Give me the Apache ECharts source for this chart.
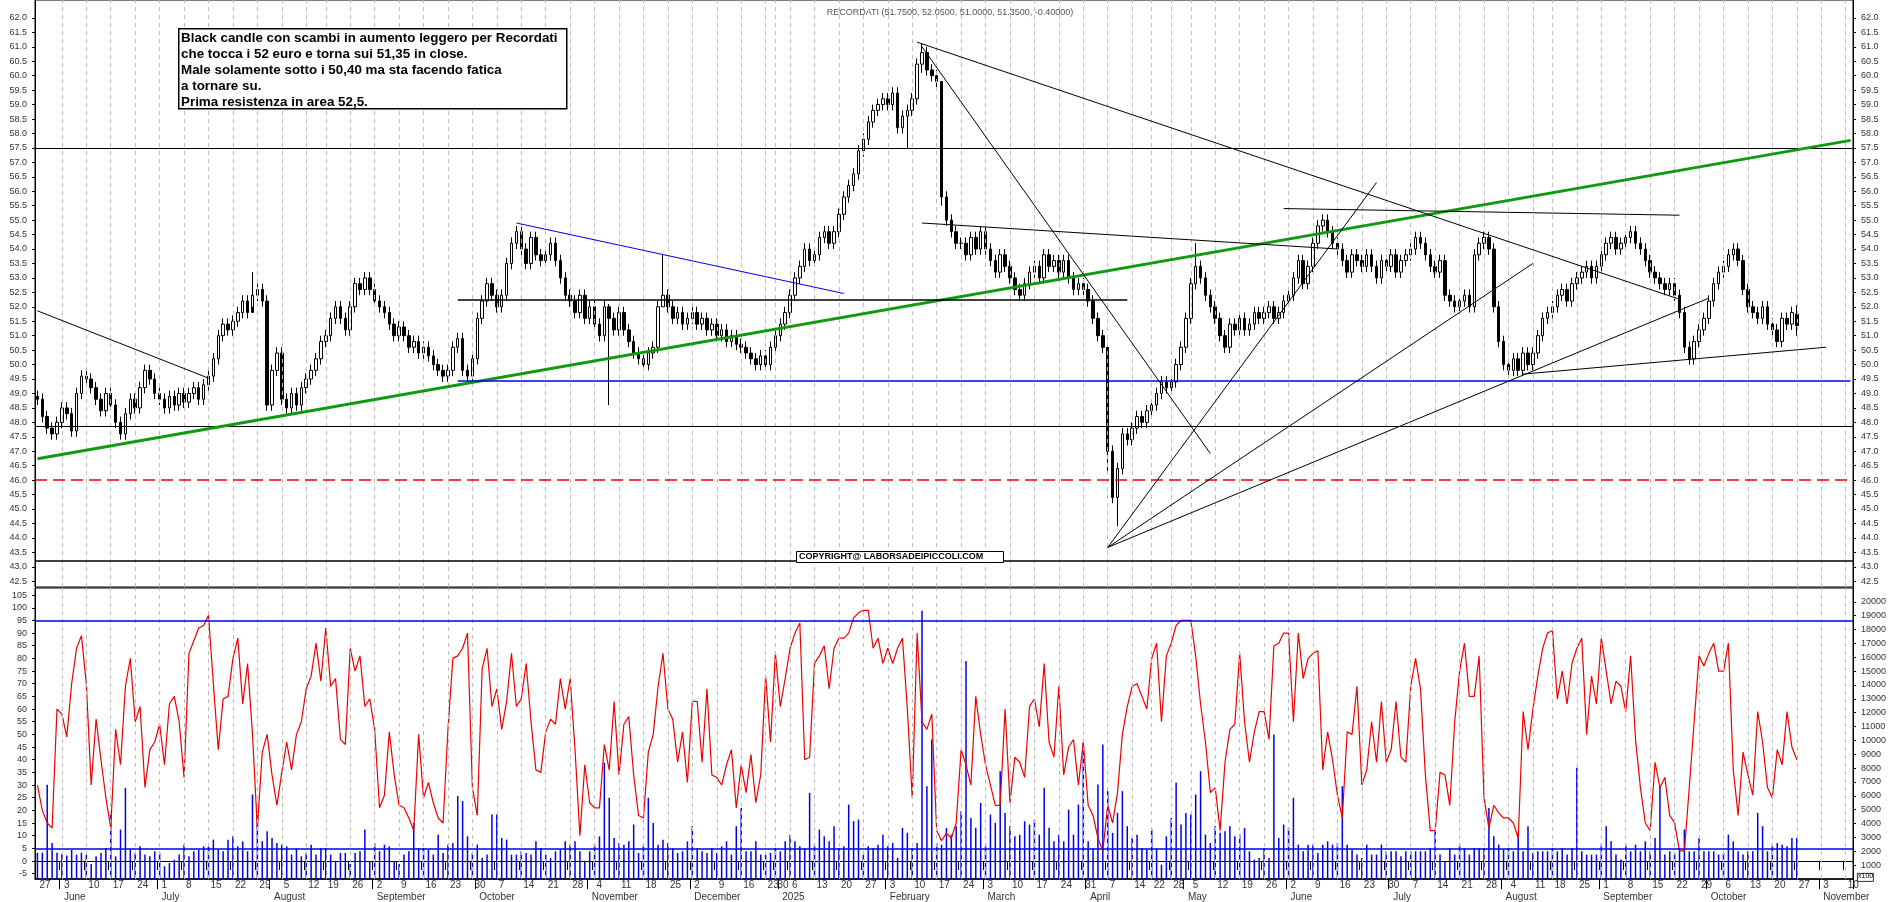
<!DOCTYPE html>
<html>
<head>
<meta charset="utf-8">
<script src="https://cdn.jsdelivr.net/npm/echarts@6/dist/echarts.min.js"></script>
<style>html,body{margin:0;padding:0;background:#fff}#chart{width:1890px;height:902px}</style>
</head>
<body>
<div id="chart"></div>
<script>
// closes, one row per week (Mon..Fri), from 27 May 2024 to 27 Oct 2025
const closes = [
  48.8, 48.2, 47.8, 47.6, 48.0,   48.5, 48.3, 47.7, 49.0, 49.6,   49.5, 49.2, 48.8, 48.4, 49.0,
  48.6, 48.0, 47.6, 48.3, 48.8,   48.5, 49.2, 49.8, 49.5, 49.0,   48.8, 48.5, 48.9, 48.6, 49.0,
  48.7, 49.0, 49.2, 48.8, 49.3,   49.6, 50.2, 51.0, 51.4, 51.2,   51.5, 51.8, 52.2, 51.8, 52.4,
  52.6, 52.2, 48.6, 49.8, 50.4,   48.8, 48.5, 49.0, 48.6, 49.2,   49.5, 49.8, 50.2, 50.8,
  51.0, 51.6, 52.0, 51.6, 51.2,   52.0, 52.8, 52.6, 53.0, 52.6,   52.2, 52.0, 51.8, 51.4, 51.0,
  51.3, 51.0, 50.6, 50.8, 50.4,   50.6, 50.3, 50.0, 49.8, 49.6,   49.8, 50.6, 50.9, 49.8, 49.6,
  50.2, 51.6, 52.2, 52.8, 52.4,   52.0, 52.4, 53.5, 54.2, 54.6,   54.0, 53.5, 54.4, 53.8, 53.6,
  53.8, 54.2, 53.6, 53.0, 52.4,   52.2, 51.8, 52.4, 51.6, 52.0,   51.4, 51.0, 52.0, 51.6, 51.2,
  51.8, 51.2, 50.8, 50.4, 50.2,   50.0, 50.4, 50.6, 52.0, 52.4,   52.0, 51.6, 51.8, 51.4, 51.6,
  51.8, 51.4, 51.6, 51.2, 51.4,   51.0, 51.2, 50.8, 51.0, 50.7,   50.6, 50.4, 50.2, 50.0, 50.3,
  50.0, 50.6,   51.0, 51.4, 51.8,
  52.4, 53.0, 53.4, 54.0, 53.6,   53.8, 54.4, 54.6, 54.2, 54.6,   55.2, 55.8, 56.2, 56.6, 57.4,
  57.8, 58.4, 58.8, 59.0, 59.2,   59.0, 59.4, 58.2, 58.6, 58.8,   59.2, 60.4, 60.8, 60.2, 60.0,
  59.8, 55.8, 55.0, 54.6, 54.2,   54.2, 53.8, 54.4, 54.0, 54.6,   54.0, 53.6, 53.2, 53.8, 53.4,
  53.0, 52.6, 52.4, 52.8, 53.2,   53.4, 53.0, 53.8, 53.4, 53.6,   53.2, 53.6, 53.0, 52.6, 52.8,
  52.6, 52.2, 51.6, 51.0, 50.6,   47.0, 45.4, 46.4, 47.6, 47.4,   47.8, 48.2, 48.0, 48.4,
  48.6, 49.0, 49.4, 49.2,   49.4, 50.0, 50.6, 51.6,
  52.8, 53.4, 53.0, 52.4, 52.0,   51.6, 51.0, 50.6, 51.4, 51.2,   51.6, 51.2, 51.4, 51.8, 51.6,
  51.8, 52.0, 51.6, 51.8, 52.2,   52.4, 53.0, 53.6, 52.8, 53.4,   54.2, 54.8, 55.0, 54.6, 54.2,
  54.0, 53.6, 53.2, 53.8, 53.6,   53.4, 53.8, 53.4, 53.0, 53.6,   53.4, 53.8, 53.2, 53.6, 53.8,
  54.0, 54.4, 54.2, 53.8, 53.4,   53.2, 53.6, 52.4, 52.2, 52.0,   52.2, 52.4, 52.0, 53.8, 54.2,
  54.4, 54.0, 52.0, 50.8, 50.0,   49.8, 50.2, 49.8, 50.4, 50.0,   50.4, 51.0, 51.6, 51.8,
  52.0, 52.4, 52.6, 52.2, 52.8,   53.0, 53.2, 53.4, 53.0, 53.4,   53.8, 54.2, 54.4, 54.0, 54.2,
  54.4, 54.6, 54.2, 54.0, 53.6,   53.2, 53.0, 52.8, 52.6, 52.8,   52.4, 51.8, 50.6, 50.2, 50.8,
  51.2, 51.6, 52.2, 52.8, 53.2,   53.4, 53.8, 54.0, 53.6, 52.6,   52.0, 51.8, 51.6, 52.0, 51.4,
  51.2, 50.8, 51.6, 51.4, 51.8,   51.35
];
// notable wicks: date -> [low, high]
const wicks = {
  '2024-07-26': [52.0, 53.2], '2024-11-07': [48.6, 52.1], '2024-11-22': [52.0, 53.8],
  '2025-02-07': [57.5, 59.0], '2025-02-12': [60.1, 61.1], '2025-02-18': [55.5, 57.0],
  '2025-04-09': [44.4, 46.6], '2025-04-07': [46.2, 49.5], '2025-05-06': [52.6, 54.2],
  '2025-10-27': [51.0, 52.05]
};
const firstOpen = 48.9, lastOpen = 51.75;

const osc = [
  30, 20, 15, 13, 60,   58, 49, 70, 84, 89,   70, 30, 56, 40, 25,   13, 52, 38, 69, 80,
  55, 61, 29, 44, 47,   54, 38, 62, 65, 55,   33, 82, 87, 92, 93,   97, 70, 44, 64, 65,
  80, 88, 62, 78, 50,   13, 43, 50, 34, 22,   35, 47, 36, 50, 55,   68, 73, 86, 71,
  92, 69, 72, 48, 46,   84, 75, 81, 61, 64,   52, 21, 26, 51, 34,   22, 21, 17, 12, 50,
  25, 31, 23, 17, 15,   52, 80, 81, 84, 90,   29, 18, 76, 84, 61,   68, 52, 63, 82, 61,
  64, 78, 55, 36, 35,   51, 56, 54, 72, 60,   72, 44, 10, 38, 23,   21, 21, 46, 36, 63,
  34, 54, 57, 34, 18,   17, 43, 50, 69, 82,   60, 56, 39, 51, 31,   63, 63, 39, 68, 34,
  33, 30, 38, 44, 21,   38, 27, 42, 23, 34,   73, 47,   82, 61, 72,
  84, 90, 94, 40, 41,   78, 81, 85, 68, 84,   88, 88, 90, 96, 98,   99, 99, 84, 88, 78,
  84, 78, 84, 88, 60,   25, 90, 55, 52, 58,   12, 8, 11, 9, 15,     44, 38, 30, 65, 50,
  38, 30, 22, 22, 60,   23, 41, 39, 33, 61,   64, 53, 78, 47, 41,   69, 34, 45, 48, 30,
  47, 22, 18, 9, 4,     22, 15, 27, 50, 61,   69, 70, 65, 60,   80, 86, 55, 81,   86, 93, 95, 95,
  95, 81, 62, 47, 27,   29, 12, 39, 52, 54,   82, 55, 39, 51, 59,   59, 48, 85, 86, 90,
  90, 55, 90, 72, 80,   82, 83, 36, 51, 40,   26, 17, 51, 50, 69,   30, 36, 55, 39, 63,
  39, 44, 63, 41, 39,   69, 80, 68, 34, 12,   12, 35, 34, 22, 55,   75, 86, 65, 65, 81,
  25, 13, 22, 19, 17,   17, 15, 9, 59, 44,   60, 73, 84, 90,   91, 64, 75, 62, 78,
  84, 88, 50, 73, 62,   88, 75, 62, 71, 69,   59, 81, 48, 29, 15,   12, 39, 29, 33, 18,
  15, 4, 4, 29, 55,     81, 77, 82, 86, 75,   75, 86, 36, 18, 43,   34, 26, 59, 47, 29,
  25, 44, 38, 59, 45,   40
];

const volume = [
  1900, 1900, 6800, 2600, 1900,   1800, 1700, 2100, 1750, 1900,   1760, 1080, 1640, 1880, 2240,
  4650, 1640, 3570, 6580, 2120,   1880, 2360, 1760, 1640, 2000,   1880, 920, 1160, 1400, 1760,
  2480, 1640, 2000, 2120, 2360,   2360, 2840, 2120, 2000, 2840,   3080, 2360, 2720, 2000, 6100,
  4650, 2720, 3450, 2960, 2600,   2480, 2360, 1760, 2240, 1640,   1880, 2480, 1760, 2240,
  2240, 1760, 1280, 1880, 1880,   1080, 1880, 2000, 3570, 1280,   2600, 2000, 2480, 2360, 1280,
  1080, 1760, 2000, 4050, 2240,   2240, 2120, 1760, 3200, 1880,   2480, 2600, 5980, 5620, 3080,
  1880, 2480, 1520, 1760, 4650,   4650, 2960, 2840, 1760, 1760,   2000, 1880, 1760, 2720, 2240,
  1760, 1520, 2000, 2120, 2720,   2480, 2720, 2000, 1280, 2000,   2480, 3080, 8390, 5860, 2960,
  2600, 2480, 2720, 3930, 1880,   2480, 5860, 4050, 2480, 2840,   2600, 2240, 1880, 2000, 2720,
  3810, 2240, 2000, 1880, 2240,   1880, 2360, 2720, 1760, 3810,   5130, 2000, 2000, 2720, 1760,
  1760, 1880,   2240, 2000, 2720,
  3200, 2720, 2360, 2240, 6220,   2480, 3570, 3080, 2720, 3810,   2240, 2360, 5370, 4170, 4290,
  1760, 2360, 2240, 2480, 3200,   2360, 2600, 1520, 3690, 3330,   2240, 2600, 19350, 6700, 10070,
  2600, 2480, 3690, 3200, 3810,   4890, 15740, 4410, 3690, 5490,   2480, 4650, 4050, 7780, 4770,
  3810, 3080, 3200, 4170, 3930,   4290, 3200, 6580, 3690, 2720,   3200, 2720, 5010, 3200, 5370,
  9830, 2720, 2240, 6820, 9710,   6340, 3330, 4770, 6340, 3810,   2960, 3200, 2240, 2120,
  3570, 2240, 1040, 3080,   4410, 6940, 3930, 4770,
  4650, 6100, 7780, 3200, 2600,   3810, 3330, 3450, 3810, 3080,   3200, 3690, 2000, 1400, 1520,
  2240, 1520, 10430, 2960, 3930,   3690, 5860, 2480, 2000, 2480,   2480, 1880, 2480, 2720, 2480,
  2600, 6700, 2480, 2120, 1760,   1520, 2480, 1760, 1760, 2480,   2000, 2000, 2000, 1640, 2000,
  2000, 2000, 2000, 2000, 2240,   3450, 1760, 1280, 2240, 1760,   2480, 2240, 1760, 2240, 2240,
  2240, 5130, 3080, 2480, 2120,   2240, 2000, 3330, 2000, 3810,   1880, 2000, 2000, 2000,
  2240, 2000, 2240, 1760, 2240,   8030, 2000, 1760, 1760, 1760,   2480, 3810, 2720, 1760, 1400,
  2480, 2000, 2480, 2000, 2720,   2000, 2960, 6700, 1760, 2000,   1880, 2240, 3570, 2000, 2000,
  2960, 2000, 2000, 2000, 1760,   1880, 3200, 2720, 2000, 1760,   2000, 2000, 4770, 3810, 2000,
  2480, 2600, 2480, 2360, 2960,   2960
];

const holidays = ['2024-08-15', '2024-12-24', '2024-12-25', '2024-12-26', '2024-12-31', '2025-01-01',
  '2025-04-18', '2025-04-21', '2025-05-01', '2025-08-15'];
const monthNames = ['2025', 'February', 'March', 'April', 'May', 'June', 'July', 'August',
  'September', 'October', 'November', 'December'];
const priceTicks = [];
for (let v = 42.5; v <= 62.01; v += 0.5) priceTicks.push(+v.toFixed(1));
const oscTicks = [-5, 0, 5, 10, 15, 20, 25, 30, 35, 40, 45, 50, 55, 60, 65, 70, 75, 80, 85, 90, 95, 100, 105];
const volTicks = [1000, 2000, 3000, 4000, 5000, 6000, 7000, 8000, 9000, 10000, 11000, 12000, 13000,
  14000, 15000, 16000, 17000, 18000, 19000, 20000];

// trading days
const dates = [];
const d = new Date(Date.UTC(2024, 4, 27));
const end = new Date(Date.UTC(2025, 10, 11));
while (d <= end) {
  const wd = d.getUTCDay();
  const s = d.toISOString().slice(0, 10);
  if (wd !== 0 && wd !== 6 && holidays.indexOf(s) < 0) dates.push(s);
  d.setUTCDate(d.getUTCDate() + 1);
}
function weekNo(s) {
  return Math.floor((Date.parse(s + 'T00:00:00Z') / 86400000 + 3) / 7);
}
const weekStart = dates.map(function (s, i) {
  return i === 0 || weekNo(s) !== weekNo(dates[i - 1]);
});
const monthStart = dates.map(function (s, i) {
  return i === 0 || s.slice(5, 7) !== dates[i - 1].slice(5, 7);
});
const weekDates = dates.filter(function (s, i) { return weekStart[i] && i > 0; });

const candles = closes.map(function (c, i) {
  const o = i === 0 ? firstOpen : (i === closes.length - 1 ? lastOpen : closes[i - 1]);
  const w = wicks[dates[i]];
  const lo = w ? w[0] : Math.min(o, c) - 0.2;
  const hi = w ? w[1] : Math.max(o, c) + 0.2;
  return [o, c, lo, hi];
});

function seg(d1, p1, d2, p2, color, width) {
  return [{ coord: [d1, p1], lineStyle: { color: color, width: width || 1, type: 'solid' } }, { coord: [d2, p2] }];
}
const lastDate = dates[dates.length - 1];
const trendLines = [
  seg(dates[0], 46.74, lastDate, 57.76, '#119911', 3),
  seg(dates[0], 51.86, '2024-07-15', 49.53, '#000'),
  seg('2024-10-11', 54.9, '2025-01-21', 52.46, '#0000ee'),
  seg('2024-09-25', 52.25, '2025-04-11', 52.25, '#000', 1.5),
  seg('2024-09-25', 49.45, lastDate, 49.45, '#0000ee', 1.5),
  seg('2025-02-11', 61.16, '2025-09-23', 52.26, '#000'),
  seg('2025-02-12', 61.0, '2025-05-09', 46.92, '#000'),
  seg('2025-02-12', 54.9, '2025-06-16', 54.0, '#000'),
  seg('2025-05-30', 55.4, '2025-09-23', 55.17, '#000'),
  seg('2025-04-07', 43.67, '2025-06-26', 56.3, '#000'),
  seg('2025-04-07', 43.67, '2025-08-11', 53.5, '#000'),
  seg('2025-04-07', 43.67, '2025-10-01', 52.3, '#000'),
  seg('2025-08-07', 49.67, '2025-11-04', 50.6, '#000')
];

function weekGrid(xi, yi) {
  return {
    type: 'line', xAxisIndex: xi, yAxisIndex: yi, data: [], silent: true, z: 0,
    markLine: {
      silent: true, symbol: 'none', label: { show: false }, animation: false,
      lineStyle: { color: '#bbb', width: 1, type: [4, 4] },
      data: weekDates.map(function (s) { return { xAxis: s }; })
    }
  };
}

const chart = echarts.init(document.getElementById('chart'));
const txt = { color: '#333', fontSize: 10, fontFamily: 'Liberation Sans' };

chart.setOption({
  animation: false,
  backgroundColor: '#fff',
  title: {
    text: 'RECORDATI (51.7500, 52.0500, 51.0000, 51.3500, -0.40000)',
    left: 945, top: 3, textAlign: 'center',
    textStyle: { fontSize: 9, fontWeight: 'normal', color: '#555', fontFamily: 'Liberation Sans' }
  },
  grid: [
    { left: 35, right: 37, top: 0, height: 587, show: true, borderColor: '#000', borderWidth: 1 },
    { left: 35, right: 37, top: 588, height: 293, show: true, borderColor: '#000', borderWidth: 1 }
  ],
  xAxis: [
    { type: 'category', data: dates, gridIndex: 0, boundaryGap: true,
      axisLine: { show: false }, axisTick: { show: false }, axisLabel: { show: false }, splitLine: { show: false } },
    { type: 'category', data: dates, gridIndex: 1, boundaryGap: true,
      axisLine: { lineStyle: { color: '#000' } },
      axisTick: { show: true, interval: function (i) { return weekStart[i]; }, length: 9, lineStyle: { color: '#000' } },
      axisLabel: Object.assign({}, txt, { interval: function (i) { return weekStart[i]; }, align: 'left', margin: 1,
        padding: [0, 0, 0, 2], formatter: function (v) { return String(+v.slice(8, 10)); } }),
      splitLine: { show: false } },
    { type: 'category', data: dates, gridIndex: 1, boundaryGap: true, position: 'bottom', offset: 12,
      axisLine: { lineStyle: { color: '#000', width: 1.5 } },
      axisTick: { show: true, interval: function (i) { return monthStart[i] && i > 0; }, length: 10, lineStyle: { color: '#000' } },
      axisLabel: Object.assign({}, txt, { interval: function (i) { return monthStart[i] && i > 0; }, align: 'left', margin: 1,
        padding: [0, 0, 0, 2], formatter: function (v) {
          const m = +v.slice(5, 7);
          return m === 1 ? '2025' : monthNames[m - 1];
        } }) }
  ],
  yAxis: [
    { type: 'value', gridIndex: 0, position: 'left', min: 42.3, max: 62.62, splitLine: { show: false },
      axisLine: { show: true, lineStyle: { color: '#000' } },
      axisTick: { show: true, customValues: priceTicks, length: 3, lineStyle: { color: '#000' } },
      axisLabel: Object.assign({}, txt, { fontSize: 9, customValues: priceTicks, formatter: function (v) { return v.toFixed(1); } }) },
    { type: 'value', gridIndex: 0, position: 'right', min: 42.3, max: 62.62, splitLine: { show: false },
      axisLine: { show: true, lineStyle: { color: '#000' } },
      axisTick: { show: true, customValues: priceTicks, length: 3, lineStyle: { color: '#000' } },
      axisLabel: Object.assign({}, txt, { fontSize: 9, customValues: priceTicks, formatter: function (v) { return v.toFixed(1); } }) },
    { type: 'value', gridIndex: 1, position: 'left', min: -7.1, max: 107.8, splitLine: { show: false },
      axisLine: { show: true, lineStyle: { color: '#000' } },
      axisTick: { show: true, customValues: oscTicks, length: 3, lineStyle: { color: '#000' } },
      axisLabel: Object.assign({}, txt, { fontSize: 9, customValues: oscTicks }) },
    { type: 'value', gridIndex: 1, position: 'right', min: 0, max: 21000, splitLine: { show: false },
      axisLine: { show: true, lineStyle: { color: '#000' } },
      axisTick: { show: true, customValues: volTicks, length: 3, lineStyle: { color: '#000' } },
      axisLabel: Object.assign({}, txt, { fontSize: 9, customValues: volTicks, formatter: function (v) { return String(v); } }) }
  ],
  series: [
    weekGrid(0, 0),
    weekGrid(1, 2),
    {
      type: 'candlestick', xAxisIndex: 0, yAxisIndex: 0, data: candles, barWidth: 3,
      itemStyle: { color: '#fff', color0: '#000', borderColor: '#000', borderColor0: '#000', borderWidth: 1 },
      markLine: {
        silent: true, symbol: 'none', label: { show: false },
        data: [
          { yAxis: 57.5, lineStyle: { color: '#000', width: 1, type: 'solid' } },
          { yAxis: 47.86, lineStyle: { color: '#000', width: 1, type: 'solid' } },
          { yAxis: 46.0, lineStyle: { color: '#ee0000', width: 1.5, type: [12, 6] } },
          { yAxis: 43.2, lineStyle: { color: '#000', width: 1.5, type: 'solid' } }
        ].concat(trendLines)
      }
    },
    {
      type: 'bar', xAxisIndex: 1, yAxisIndex: 3, data: volume, barWidth: 1.5,
      itemStyle: { color: '#0000ee' }, z: 1
    },
    {
      type: 'line', xAxisIndex: 1, yAxisIndex: 2, data: osc, showSymbol: false, symbol: 'none',
      lineStyle: { color: '#ee0000', width: 1.2 }, z: 3,
      markLine: {
        silent: true, symbol: 'none', label: { show: false },
        lineStyle: { color: '#0000ee', width: 1.5, type: 'solid' },
        data: [{ yAxis: 95 }, { yAxis: 5 }]
      }
    }
  ],
  graphic: [
    { type: 'rect', left: 178, top: 28, shape: { width: 388, height: 80 },
      style: { fill: '#fff', stroke: '#000', lineWidth: 1.5 }, z: 10 },
    { type: 'text', left: 181, top: 30, z: 11,
      style: { text: 'Black candle con scambi in aumento leggero per Recordati\nche tocca i 52 euro e torna sui 51,35 in close.\nMale solamente sotto i 50,40 ma sta facendo fatica\na tornare su.\nPrima resistenza in area 52,5.',
        font: 'bold 13.4px "Liberation Sans"', lineHeight: 16, fill: '#000' } },
    { type: 'rect', left: 796, top: 551, shape: { width: 207, height: 11 },
      style: { fill: '#fff', stroke: '#000', lineWidth: 1 }, z: 10 },
    { type: 'text', left: 799, top: 552, z: 11,
      style: { text: 'COPYRIGHT@ LABORSADEIPICCOLI.COM', font: 'bold 9px "Liberation Sans"', fill: '#000' } },
    { type: 'rect', left: 1857, top: 873, shape: { width: 16, height: 8 },
      style: { fill: '#fff', stroke: '#000', lineWidth: 0.8 }, z: 10 },
    { type: 'text', left: 1858, top: 873, z: 11,
      style: { text: 'x100', font: '7px "Liberation Sans"', fill: '#000' } }
  ]
});
</script>
</body>
</html>
